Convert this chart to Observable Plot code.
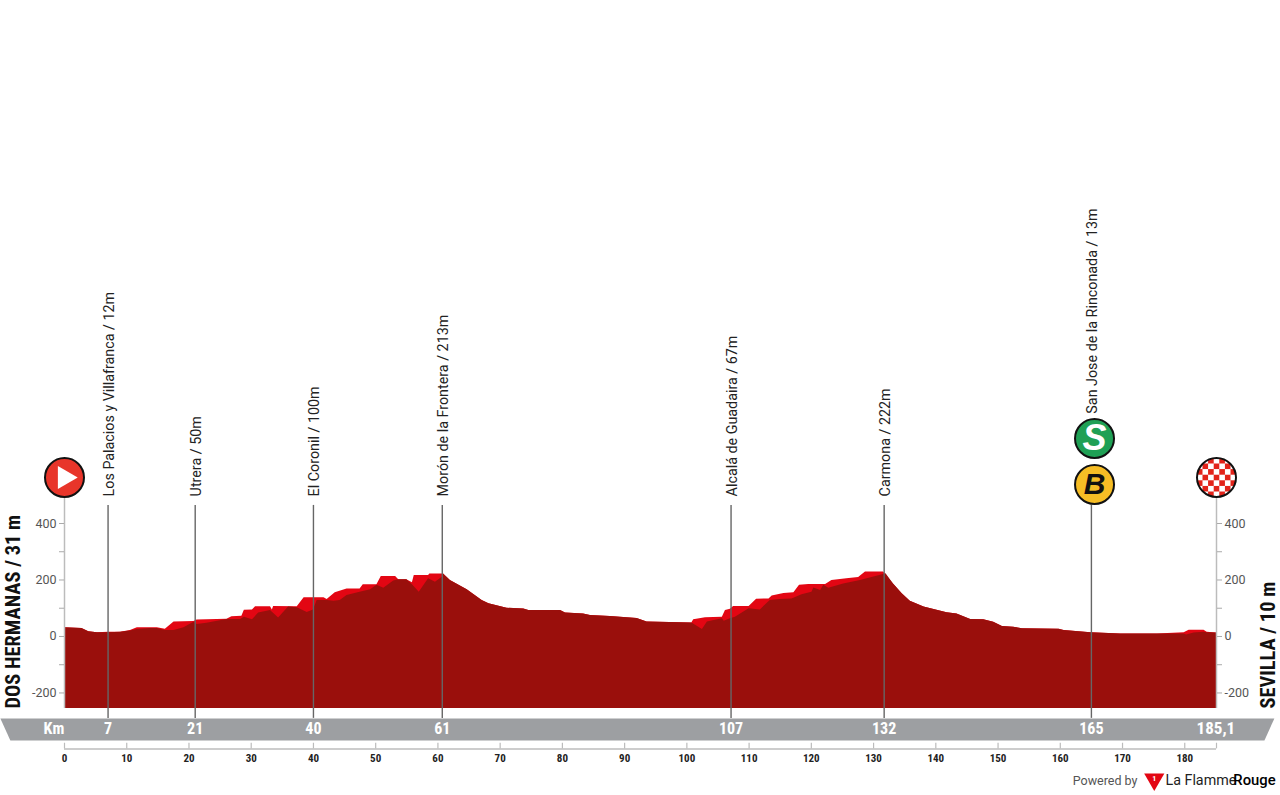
<!DOCTYPE html>
<html><head><meta charset="utf-8">
<script src="https://cdn.jsdelivr.net/npm/d3@7"></script>
<script src="https://cdn.jsdelivr.net/npm/@observablehq/plot@0.6"></script>
<style>html,body{margin:0;padding:0;background:#fff}svg{display:block}</style>
</head><body><div id="chart"></div>
<script>
// [km, metres] bright upper profile
const profileTop = [[0,31],[2.8,28],[3.9,17],[5.3,13],[7.1,15],[9,15],[10.6,21],[11.7,31],[14.9,31],[16.2,26],[17.6,51],[20.8,53],[21.3,58],[26.1,61],[26.9,70],[28.5,72],[28.9,93],[30.2,94],[30.7,105],[33.1,105],[33.4,94],[33.6,106],[37.4,105],[38.5,137],[41.7,137],[42.2,131],[43.5,155],[45.4,168],[47.5,168],[48,183],[50.2,183],[50.9,212],[53.2,212],[53.7,201],[55,201],[55.9,190],[56.2,216],[58.5,216],[58.7,221],[60.9,221],[62,198],[64.7,165],[67.1,127],[68.2,116],[71.1,100],[73.8,97],[74.6,92],[79.7,92],[80.5,83],[83.4,80],[84.5,74],[87.7,71],[92,64],[93.6,51],[100.8,48],[101.1,59],[103,66],[105.7,68],[106.2,92],[107,96],[107.5,106],[110,106],[111.2,132],[113.2,133],[113.7,143],[115.6,152],[117.2,155],[118.1,181],[119.6,184],[122.3,184],[123.3,198],[125.7,204],[127.6,209],[128.7,228],[131.6,228],[133.2,186],[134.6,151],[135.9,125],[138.1,104],[141.8,84],[143.4,80],[145.6,60],[147.7,59],[149.3,50],[150.7,35],[152.5,33],[153.9,27],[159.8,26],[160.6,21],[164.9,13],[169.7,9],[175.6,9],[179.9,13],[180.7,22],[183.1,22],[183.6,15],[185.1,12]];
// [km, metres] dark front profile
const profileDark = [[0,31],[2.8,28],[3.9,17],[5.3,13],[7.1,13],[9,15],[10.6,19],[11.7,25],[13.8,28],[14.9,28],[16.2,21],[17.6,21],[19.2,31],[20.8,50],[21.3,42],[22.9,47],[26.1,60],[28.3,60],[28.9,68],[30.2,59],[31.2,83],[33.1,92],[34.4,65],[36,104],[37.4,102],[39,85],[40,94],[40.6,127],[42.2,127],[43.3,125],[44.3,127],[45.4,145],[47.5,157],[49.2,165],[50.2,181],[51.3,171],[52.9,196],[53.7,201],[55,201],[55.9,183],[57,157],[58.5,204],[59.6,192],[60.7,210],[60.9,221],[62,198],[64.7,165],[67.1,127],[68.2,116],[71.1,100],[73.8,97],[74.6,92],[79.7,92],[80.5,83],[83.4,80],[84.5,74],[87.7,71],[92,64],[93.6,51],[100.8,48],[102.5,25],[103.3,51],[105.7,63],[106,54],[107,63],[107.8,68],[110,98],[111.8,94],[113.4,127],[115,131],[116.9,133],[118.5,148],[120.1,157],[120.4,172],[121.5,163],[122,181],[122.8,171],[125.2,186],[127.9,198],[131.6,219],[132,222],[133.2,186],[134.6,151],[135.9,125],[138.1,104],[141.8,84],[143.4,80],[145.6,60],[147.7,59],[149.3,50],[150.7,35],[152.5,33],[153.9,27],[159.8,26],[160.6,21],[164.9,13],[169.7,9],[175.6,9],[179.9,9],[180.3,5],[181.5,12],[183.1,15],[183.6,13],[185.1,12]];

const placeKm = [7,21,40,60.7,107.1,131.7,165];
const placeNames = ["Los Palacios y Villafranca / 12m","Utrera / 50m","El Coronil / 100m","Morón de la Frontera / 213m","Alcalá de Guadaira / 67m","Carmona / 222m","San Jose de la Rinconada / 13m"];
const placeKmLabels = ["7","21","40","61","107","132","165"];
const placeLabelBase = [496,496,496,496,496,496,789];
const elevTicks = [-200,-100,0,100,200,300,400];
const elevLabels = [-200,0,200,400];
const kmTicks = [0,10,20,30,40,50,60,70,80,90,100,110,120,130,140,150,160,170,180];
const ribbon = [[-10.3,-290],[194.4,-290],[192.8,-368],[-8.7,-368]];

const NARROW = "'Liberation Sans Narrow','Roboto Condensed','Liberation Sans',sans-serif";
const SANS = "Roboto,'Liberation Sans',sans-serif";
const places = placeKm.map((km,i)=>({km,name:placeNames[i],label:placeKmLabels[i],base:placeLabelBase[i]}));

const defs = () => {
  const c = 5.6;
  const d = d3.create("svg:defs");
  const p = d.append("pattern").attr("id","checker").attr("patternUnits","userSpaceOnUse")
    .attr("width",2*c).attr("height",2*c).attr("x",1216-c/2).attr("y",477-c/2);
  p.append("rect").attr("width",2*c).attr("height",2*c).attr("fill","#fff");
  p.append("rect").attr("width",c).attr("height",c).attr("fill","#e2231a");
  p.append("rect").attr("x",c).attr("y",c).attr("width",c).attr("height",c).attr("fill","#e2231a");
  return d.node();
};

const yAxisOpts = {ticks:elevTicks,tickSize:5,tickPadding:3,label:null,fontSize:12.5,
  tickFormat:d=>elevLabels.includes(d)?String(d):"",stroke:"#aaa",color:"#555"};

const chart = Plot.plot({
  width:1280,height:795,
  marginLeft:64,marginRight:64,marginTop:0,marginBottom:0,
  style:{background:"#fff",fontFamily:SANS,overflow:"visible",color:"#555"},
  x:{domain:[0,185.1],range:[64,1216],axis:null},
  y:{domain:[-255,400],range:[708,523]},
  marks:[
    defs,
    Plot.line(ribbon,{x:d=>d[0],y:d=>d[1],fill:"#9d9fa2",stroke:"none"}),
    Plot.areaY(profileTop,{x:d=>d[0],y1:-255,y2:d=>d[1],fill:"#e30613",curve:"linear"}),
    Plot.areaY(profileDark,{x:d=>d[0],y1:-255,y2:d=>d[1],fill:"#9a0f0c",curve:"linear"}),
    Plot.ruleX([0,185.1],{y1:-255,y2:490,stroke:"#bcbcbc",strokeWidth:1.5}),
    Plot.axisY({anchor:"left",...yAxisOpts}),
    Plot.axisY({anchor:"right",...yAxisOpts}),
    Plot.ruleX(places,{x:"km",y1:-290,y2:464,stroke:"#666",strokeWidth:1.4}),
    Plot.text(places,{x:"km",y:"base",text:"name",rotate:-90,textAnchor:"start",dx:1,fill:"#222",fontSize:14.3,fontFamily:SANS}),
    Plot.text(places,{x:"km",y:-326,text:"label",fill:"#fff",fontSize:16,fontWeight:"bold",fontFamily:NARROW}),
    Plot.text(["Km"],{x:-1.7,y:-326,text:d=>d,fill:"#fff",fontSize:16,fontWeight:"bold",fontFamily:NARROW}),
    Plot.text(["185,1"],{x:185,y:-326,text:d=>d,fill:"#fff",fontSize:17,fontWeight:"bold",fontFamily:NARROW}),
    Plot.ruleY([-398],{x1:0,x2:185.1,stroke:"#bcbcbc",strokeWidth:1.5}),
    Plot.ruleX([...kmTicks,185.1],{y1:-398,y2:-378,stroke:"#bcbcbc",strokeWidth:1.2}),
    Plot.text(kmTicks,{x:d=>d,y:-432,text:d=>String(d),fill:"#222",fontSize:11,fontWeight:"bold",fontFamily:NARROW}),
    Plot.text(["DOS HERMANAS / 31 m"],{x:-8.2,y:-255,text:d=>d,rotate:-90,textAnchor:"start",fill:"#111",fontSize:20.4,fontWeight:"bold",fontFamily:NARROW}),
    Plot.text(["SEVILLA / 10 m"],{x:193.4,y:-255,text:d=>d,rotate:-90,textAnchor:"start",fill:"#111",fontSize:20.4,fontWeight:"bold",fontFamily:NARROW}),
    Plot.dot([0],{x:d=>d,y:563,r:19.5,fill:"#e8352a",stroke:"#111",strokeWidth:2}),
    Plot.dot([0],{x:d=>d,y:563,r:8.5,symbol:"triangle",rotate:90,fill:"#fff"}),
    Plot.dot([185.1],{x:d=>d,y:563,r:19.5,fill:"url(#checker)",stroke:"#111",strokeWidth:2}),
    Plot.dot([165.5],{x:d=>d,y:701,r:19.5,fill:"#1fa055",stroke:"#111",strokeWidth:2}),
    Plot.dot([165.5],{x:d=>d,y:538,r:19.5,fill:"#f6bd25",stroke:"#111",strokeWidth:2}),
    Plot.text(["S"],{x:165.5,y:701,text:d=>d,fill:"#fff",fontSize:36,fontWeight:"bold",fontStyle:"italic",fontFamily:"'Liberation Sans',sans-serif"}),
    Plot.text(["B"],{x:165.5,y:538,text:d=>d,fill:"#111",fontSize:30,fontWeight:"bold",fontStyle:"italic",fontFamily:"'Liberation Sans',sans-serif"}),
    Plot.text(["Powered by"],{x:162,y:-510,text:d=>d,textAnchor:"start",fill:"#555",fontSize:12.5,fontFamily:SANS}),
    Plot.dot([175.1],{x:d=>d,y:-506,r:7.5,symbol:"triangle",rotate:180,fill:"#e30613"}),
    Plot.text(["1"],{x:175.1,y:-503,text:d=>d,fill:"#fff",fontSize:8,fontWeight:"bold",fontFamily:NARROW}),
    Plot.text(["La Flamme"],{x:176.9,y:-510,text:d=>d,textAnchor:"start",fill:"#222",fontSize:14.3,fontFamily:SANS}),
    Plot.text(["Rouge"],{x:194.6,y:-510,text:d=>d,textAnchor:"end",fill:"#000",fontSize:14.8,fontWeight:500,fontFamily:SANS})
  ]
});
document.getElementById("chart").appendChild(chart);
</script></body></html>
